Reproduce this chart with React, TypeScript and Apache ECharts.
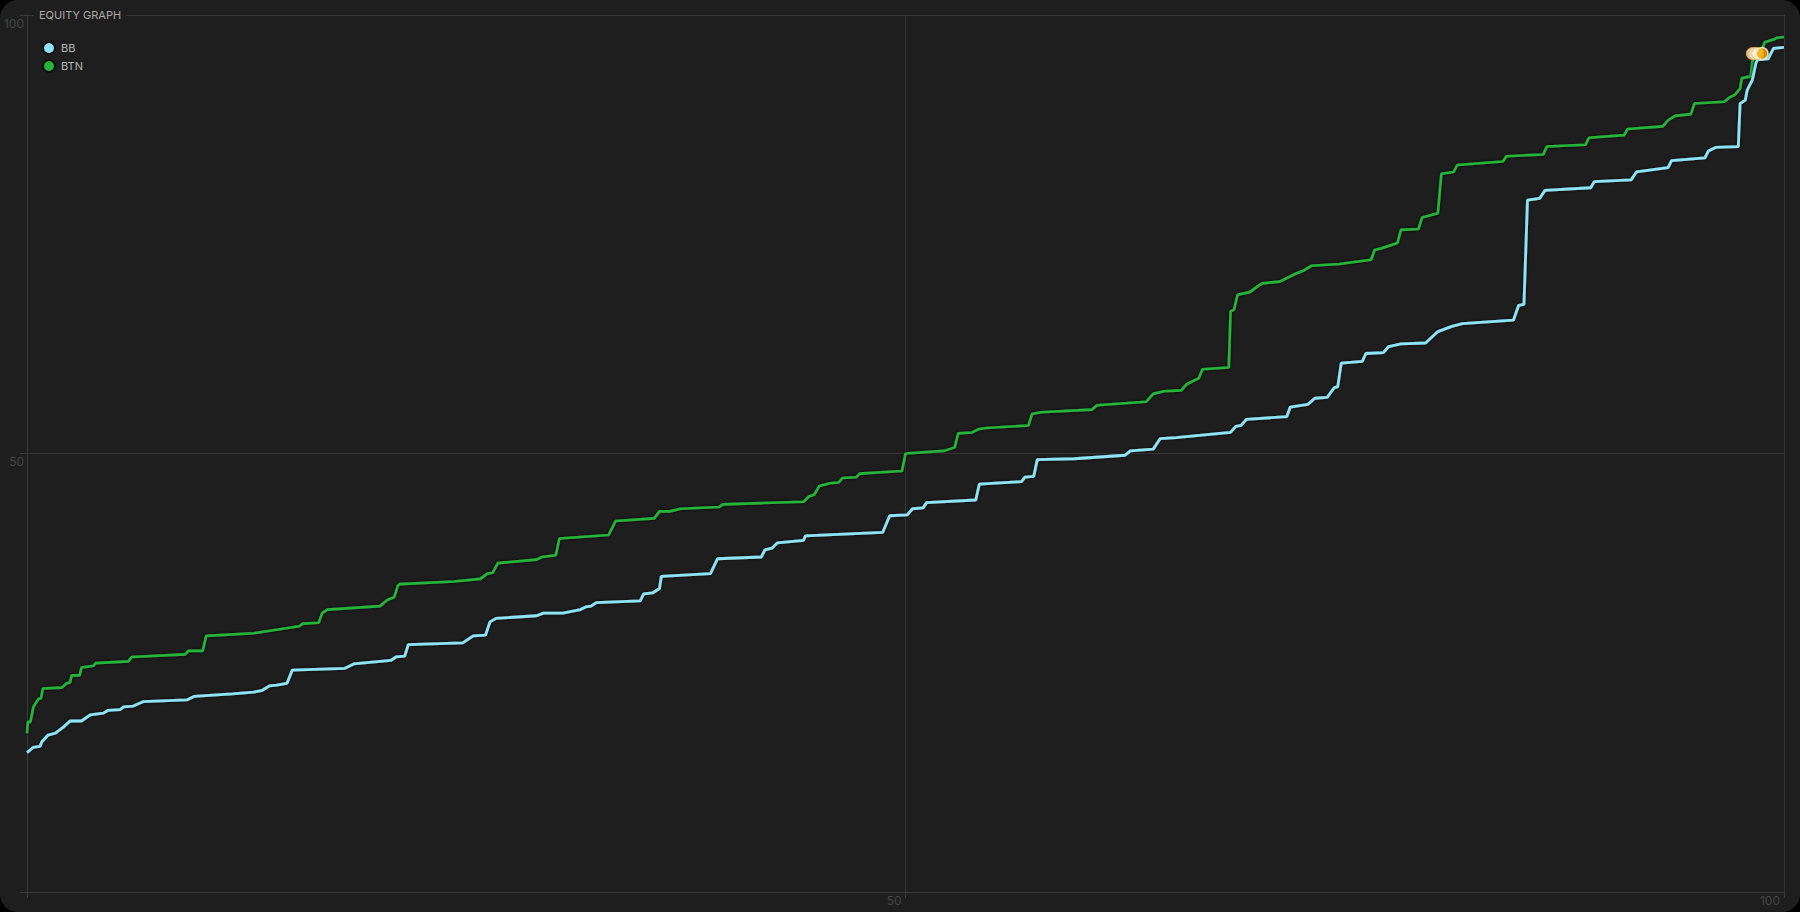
import React, { useEffect, useRef } from "react";
import * as echarts from "echarts";

const xTicks = [0, 50, 100];
const seriesNames = ["BB", "BTN"];

const btnX = [0, 0.05, 0.2, 0.36, 0.65, 0.8, 0.9, 1.97, 2.26, 2.45, 2.54, 3.0, 3.1, 3.8, 3.9, 5.77, 5.96, 9.0, 9.18, 10.0, 10.2, 12.9, 15.5, 15.7, 16.6, 16.8, 17.1, 20.1, 20.5, 20.9, 21.1, 21.2, 24.3, 25.8, 26.2, 26.5, 26.8, 29.0, 29.3, 30.1, 30.3, 33.1, 33.5, 35.7, 36.0, 36.6, 37.2, 39.4, 39.6, 44.2, 44.5, 44.8, 45.1, 45.7, 46.2, 46.4, 47.2, 47.4, 49.8, 50.0, 52.2, 52.8, 53.0, 53.8, 54.2, 54.6, 57.0, 57.2, 57.7, 60.6, 60.9, 63.7, 64.1, 64.7, 65.7, 66.0, 66.7, 66.9, 68.4, 68.5, 68.7, 68.9, 69.6, 70.0, 70.3, 71.3, 72.2, 72.7, 73.1, 74.7, 76.5, 76.7, 77.1, 78.0, 78.2, 79.2, 79.4, 80.3, 80.5, 81.2, 81.4, 84.0, 84.2, 86.3, 86.5, 88.7, 88.9, 90.9, 91.1, 93.1, 93.4, 93.8, 94.7, 94.9, 96.6, 96.9, 97.2, 97.5, 97.6, 98.1, 98.2, 98.7, 98.9, 99.4, 99.6, 100];
const btnY = [18.1, 19.4, 19.4, 21.1, 22.0, 22.1, 23.2, 23.3, 23.8, 23.9, 24.7, 24.7, 25.6, 25.8, 26.1, 26.3, 26.8, 27.1, 27.5, 27.5, 29.2, 29.5, 30.3, 30.6, 30.7, 31.8, 32.2, 32.6, 33.3, 33.6, 34.9, 35.1, 35.4, 35.7, 36.3, 36.4, 37.5, 37.9, 38.2, 38.4, 40.3, 40.7, 42.3, 42.6, 43.4, 43.4, 43.7, 43.9, 44.2, 44.5, 45.1, 45.3, 46.3, 46.6, 46.7, 47.2, 47.3, 47.7, 48.0, 50.0, 50.3, 50.7, 52.3, 52.4, 52.8, 52.9, 53.2, 54.5, 54.7, 55.0, 55.5, 55.9, 56.8, 57.1, 57.2, 57.9, 58.6, 59.6, 59.8, 66.2, 66.4, 68.1, 68.4, 69.0, 69.4, 69.6, 70.5, 70.9, 71.4, 71.6, 72.1, 73.2, 73.4, 74.0, 75.5, 75.6, 76.9, 77.4, 81.9, 82.1, 82.9, 83.3, 83.9, 84.1, 85.0, 85.2, 86.0, 86.3, 87.0, 87.3, 88.0, 88.5, 88.7, 89.9, 90.1, 90.6, 90.9, 91.6, 92.8, 93.0, 94.7, 95.8, 96.9, 97.2, 97.4, 97.5];

const bbX = [0, 0.36, 0.74, 0.84, 1.2, 1.6, 2.07, 2.45, 3.1, 3.6, 4.35, 4.6, 5.3, 5.5, 6.05, 6.6, 9.1, 9.5, 11.7, 12.9, 13.4, 13.8, 14.2, 14.8, 15.1, 18.1, 18.6, 20.7, 21.0, 21.5, 21.7, 24.8, 25.4, 26.1, 26.35, 26.7, 29.0, 29.4, 30.5, 31.5, 31.8, 32.1, 32.4, 34.9, 35.1, 35.6, 36.0, 36.1, 38.9, 39.3, 41.8, 42.0, 42.4, 42.7, 44.2, 44.3, 48.7, 49.1, 50.1, 50.4, 51.0, 51.2, 54.0, 54.2, 56.6, 56.8, 57.3, 57.5, 59.6, 62.5, 62.8, 64.1, 64.5, 65.4, 68.5, 68.8, 69.1, 69.4, 71.7, 71.9, 72.9, 73.3, 74.0, 74.4, 74.6, 74.8, 76.0, 76.2, 77.2, 77.5, 78.2, 79.6, 80.3, 81.1, 81.7, 84.6, 84.9, 85.2, 85.4, 86.1, 86.4, 89.0, 89.2, 91.3, 91.6, 93.4, 93.6, 95.5, 95.7, 96.1, 97.4, 97.5, 97.8, 97.9, 98.2, 98.4, 98.5, 99.1, 99.4, 100];
const bbY = [15.9, 16.5, 16.6, 17.1, 17.9, 18.1, 18.8, 19.5, 19.5, 20.2, 20.4, 20.7, 20.8, 21.1, 21.2, 21.7, 21.9, 22.3, 22.6, 22.8, 23.0, 23.5, 23.6, 23.8, 25.3, 25.5, 26.0, 26.4, 26.8, 26.9, 28.2, 28.4, 29.2, 29.3, 30.8, 31.2, 31.5, 31.8, 31.8, 32.2, 32.5, 32.6, 33.0, 33.2, 34.0, 34.1, 34.6, 36.0, 36.3, 38.0, 38.2, 39.0, 39.2, 39.8, 40.1, 40.6, 41.0, 42.9, 43.0, 43.7, 43.8, 44.4, 44.7, 46.5, 46.8, 47.3, 47.4, 49.3, 49.4, 49.8, 50.3, 50.5, 51.7, 51.8, 52.4, 53.1, 53.2, 53.9, 54.2, 55.3, 55.6, 56.3, 56.4, 57.5, 57.6, 60.3, 60.5, 61.4, 61.5, 62.2, 62.5, 62.6, 63.9, 64.5, 64.8, 65.2, 66.9, 67.0, 78.9, 79.1, 80.0, 80.3, 81.0, 81.2, 82.1, 82.6, 83.4, 83.7, 84.5, 84.9, 85.0, 89.9, 90.3, 91.4, 92.6, 94.5, 94.9, 95.0, 96.2, 96.3];

const markerX = [98.2, 98.35, 98.5, 98.75];
const markerY = [95.6, 95.6, 95.6, 95.6];

const FONT = "Inter, 'Noto Sans', sans-serif";

export default function App() {
  const ref = useRef<HTMLDivElement>(null);

  useEffect(() => {
    document.body.style.margin = "0";
    document.body.style.background = "#000";
    document.body.style.overflow = "hidden";
    if (!ref.current) return;
    const chart = echarts.init(ref.current, undefined, { renderer: "svg" });
    const pair = (xs: number[], ys: number[]) => xs.map((x, i) => [x, ys[i]]);
    const axisCommon = {
      type: "value" as const,
      min: 0,
      max: 100,
      interval: 50,
      axisLine: { show: true, lineStyle: { color: "#3a3a3a", width: 1 } },
      splitLine: { show: true, lineStyle: { color: "#363636", width: 1 } },
    };
    chart.setOption({
      animation: false,
      backgroundColor: "transparent",
      textStyle: { fontFamily: FONT },
      title: {
        text: "EQUITY GRAPH",
        left: 34,
        top: 8,
        padding: [1, 5, 1, 5],
        backgroundColor: "#1e1e1e",
        textStyle: { color: "#a8a8a8", fontSize: 11, fontWeight: "normal", fontFamily: FONT },
      },
      legend: {
        data: seriesNames,
        orient: "vertical",
        left: 42,
        top: 41,
        padding: 0,
        itemWidth: 12,
        itemHeight: 12,
        itemGap: 4,
        icon: "circle",
        textStyle: { color: "#b5b5b5", fontSize: 11, fontFamily: FONT, padding: [0, 0, 0, 1] },
      },
      grid: { left: 27, right: 16, top: 15, bottom: 20 },
      xAxis: {
        ...axisCommon,
        axisTick: { show: true, length: 6, lineStyle: { color: "#3a3a3a" } },
        axisLabel: {
          color: "#454545",
          fontSize: 12,
          fontFamily: FONT,
          margin: 2,
          align: "right",
          padding: [0, 4, 0, 0],
          formatter: (v: number) => (v === xTicks[0] ? "" : String(v)),
        },
      },
      yAxis: {
        ...axisCommon,
        axisTick: { show: true, length: 7, lineStyle: { color: "#3a3a3a" } },
        axisLabel: {
          color: "#454545",
          fontSize: 12,
          fontFamily: FONT,
          margin: 3,
          verticalAlign: "top",
          padding: [2, 0, 0, 0],
          formatter: (v: number) => (v === 0 ? "" : String(v)),
        },
      },
      series: [
        {
          name: "BTN",
          type: "line",
          data: pair(btnX, btnY),
          showSymbol: false,
          z: 2,
          itemStyle: { color: "#27b43a", borderColor: "#111", borderWidth: 1 },
          lineStyle: { color: "#27b43a", width: 2.6, shadowColor: "rgba(0,0,0,0.9)", shadowBlur: 3 },
        },
        {
          name: "BB",
          type: "line",
          data: pair(bbX, bbY),
          showSymbol: false,
          z: 3,
          itemStyle: { color: "#8ee3f4", borderColor: "#111", borderWidth: 1 },
          lineStyle: { color: "#8ee3f4", width: 2.8, shadowColor: "rgba(0,0,0,0.9)", shadowBlur: 3 },
        },
        {
          name: "marker",
          type: "scatter",
          z: 5,
          symbolSize: 12,
          data: pair(markerX, markerY).map((p, i) => ({
            value: p,
            itemStyle:
              i === markerX.length - 1
                ? { color: "#f7a800", borderColor: "#fff3dd", borderWidth: 1.5 }
                : { color: "#fdf0da", borderColor: "#f2b24a", borderWidth: 1 },
          })),
        },
      ],
    });
    return () => chart.dispose();
  }, []);

  return (
    <div style={{ width: 1800, height: 912, background: "#000", position: "relative" }}>
      <div
        style={{
          position: "absolute",
          inset: 0,
          borderRadius: 18,
          overflow: "hidden",
          background: "#1e1e1e",
        }}
      >
        <div ref={ref} style={{ width: 1800, height: 912 }} />
      </div>
    </div>
  );
}
